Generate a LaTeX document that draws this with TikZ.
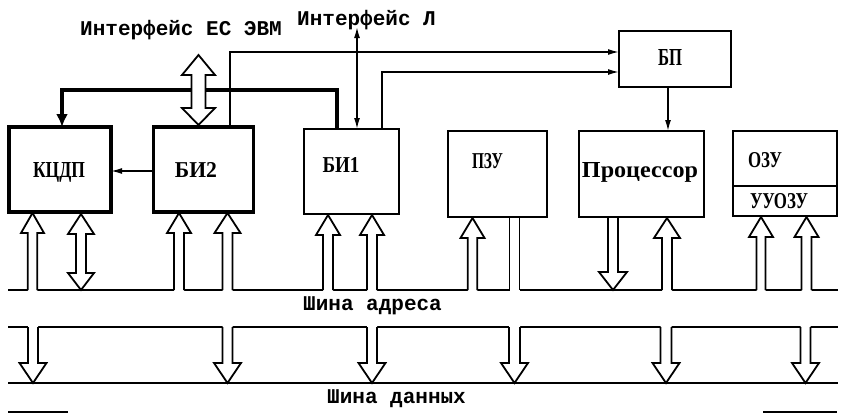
\documentclass[tikz,border=0pt]{standalone}
\usepackage{fontspec}
\usepackage{graphicx}
\setmainfont{Liberation Serif}
\newfontfamily\twfont{Liberation Mono}
\usetikzlibrary{arrows.meta,calc}

% hollow arrow pointing up: x, tip y, open base y, stem half, head half, head length
\newcommand\HUp[6]{%
  \fill[white] (#1-#4,#3+2) -- (#1-#4,#2+#6) -- (#1-#5,#2+#6) -- (#1,#2) -- (#1+#5,#2+#6) -- (#1+#4,#2+#6) -- (#1+#4,#3+2) -- cycle;
  \draw[hol] (#1-#4,#3) -- (#1-#4,#2+#6) -- (#1-#5,#2+#6) -- (#1,#2) -- (#1+#5,#2+#6) -- (#1+#4,#2+#6) -- (#1+#4,#3);}
% hollow arrow pointing down: x, open base y, tip y, stem half, head half, head length, fill offset
\newcommand\HDown[7]{%
  \fill[white] (#1-#4,#2+#7) -- (#1-#4,#3-#6) -- (#1-#5,#3-#6) -- (#1,#3) -- (#1+#5,#3-#6) -- (#1+#4,#3-#6) -- (#1+#4,#2+#7) -- cycle;
  \draw[hol] (#1-#4,#2) -- (#1-#4,#3-#6) -- (#1-#5,#3-#6) -- (#1,#3) -- (#1+#5,#3-#6) -- (#1+#4,#3-#6) -- (#1+#4,#2);}
% hollow double arrow: x, top tip, bottom tip, stem half, head half, top head length, bottom head length
\newcommand\HBoth[7]{%
  \fill[white] (#1,#2) -- (#1+#5,#2+#6) -- (#1+#4,#2+#6) -- (#1+#4,#3-#7) -- (#1+#5,#3-#7) -- (#1,#3) -- (#1-#5,#3-#7) -- (#1-#4,#3-#7) -- (#1-#4,#2+#6) -- (#1-#5,#2+#6) -- cycle;
  \draw[hol] (#1,#2) -- (#1+#5,#2+#6) -- (#1+#4,#2+#6) -- (#1+#4,#3-#7) -- (#1+#5,#3-#7) -- (#1,#3) -- (#1-#5,#3-#7) -- (#1-#4,#3-#7) -- (#1-#4,#2+#6) -- (#1-#5,#2+#6) -- cycle;}
% hollow stem without heads: x, top y, bottom y, stem half
\newcommand\HStem[4]{%
  \fill[white] (#1-#4,#2+3) rectangle (#1+#4,#3+2);
  \draw[hol] (#1-#4,#2) -- (#1-#4,#3) (#1+#4,#2) -- (#1+#4,#3);}

\tikzset{
  boxthick/.style={draw, line width=3.5pt, inner sep=0pt, outer sep=0pt},
  boxthin/.style={draw, line width=2pt, inner sep=0pt, outer sep=0pt},
  bus/.style={line width=2pt},
  ln/.style={line width=1.5pt},
  thickln/.style={line width=4pt},
  hol/.style={line width=1.8pt, line join=miter},
  tip/.style={-{Latex[length=11pt,width=6pt]}},
  mono/.style={font=\twfont\bfseries\fontsize{21pt}{21pt}\selectfont, inner sep=0pt, anchor=base west},
  lab/.style={font=\bfseries, inner sep=0pt, anchor=base},
}

\begin{document}
\begin{tikzpicture}[x=1pt,y=-1pt]
\useasboundingbox (0,0) rectangle (841,415);

% blocks
\node[boxthick, minimum width=102pt, minimum height=85pt] (k) at (60,169.5) {};
\node[boxthick, minimum width=100pt, minimum height=85pt] (b2) at (203.5,169.5) {};
\node[boxthin, minimum width=95pt, minimum height=85pt] (b1) at (351.5,171.5) {};
\node[boxthin, minimum width=99pt, minimum height=86pt] (pzu) at (497.5,174) {};
\node[boxthin, minimum width=125pt, minimum height=86pt] (cpu) at (641.5,174) {};
\node[boxthin, minimum width=104pt, minimum height=85pt] (ozu) at (785,173.5) {};
\node[boxthin, minimum width=112pt, minimum height=56pt] (bp) at (675,59) {};
\draw[line width=2pt] (ozu.west |- 0,186) -- (ozu.east |- 0,186);

% labels
\node[lab] (lk) at (59,177) {\resizebox{52pt}{15pt}{КЦДП}};
\node[lab] (lb2) at (196,177) {\resizebox{42pt}{15pt}{БИ2}};
\node[lab] (lb1) at (341,172) {\resizebox{37pt}{15pt}{БИ1}};
\node[lab] (lpzu) at (487.5,168) {\resizebox{31pt}{15pt}{ПЗУ}};
\node[lab] (lcpu) at (640,177) {\resizebox{116pt}{15pt}{Процессор}};
\node[lab] (lozu) at (765,167) {\resizebox{34pt}{15pt}{ОЗУ}};
\node[lab] (luu) at (779,208) {\resizebox{58pt}{15pt}{УУОЗУ}};
\node[lab] (lbp) at (670,65) {\resizebox{24pt}{16pt}{БП}};

\node[mono] (tes) at (80,35) {Интерфейс ЕС ЭВМ};
\node[mono] (tl) at (297,25) {Интерфейс Л};
\node[mono] (ta) at (303,310) {Шина адреса};
\node[mono] (td) at (327,403) {Шина данных};

% top connections
\draw[thickln, -{Latex[length=13pt,width=12pt]}] (b1.north -| 337,0) |- (62,90) -- (k.north -| 62,0);
\draw[ln, tip] (b2.north -| 230,0) |- (bp.west |- 0,52);
\draw[ln, tip] (b1.north -| 382,0) |- (bp.west |- 0,72);
\coordinate (ifl) at (357,27);
\draw[ln, {Latex[length=11pt,width=6pt]}-{Latex[length=11pt,width=6pt]}] (ifl) -- (b1.north -| ifl);
\draw[ln, tip] (bp.south -| 668,0) -- (cpu.north -| 668,0);
\draw[ln, tip] (b2.west |- 0,171) -- (k.east |- 0,171);
\HBoth{198.5}{55}{125}{7}{16.5}{20}{17}

% buses
\coordinate (a1) at (8,290);  \coordinate (a2) at (838,290);
\coordinate (d1) at (8,327);  \coordinate (d2) at (838,327);
\coordinate (e1) at (8,383);  \coordinate (e2) at (838,383);
\draw[bus] (a1) -- (a2);
\draw[bus] (d1) -- (d2);
\draw[bus] (e1) -- (e2);
\draw[bus] (8,412) -- (68,412);
\draw[bus] (763,412) -- (837,412);

% address side arrows
\HUp{32.5}{213}{290}{4.75}{11.5}{20}
\HBoth{81}{214}{290}{5}{13}{20}{17}
\HUp{179}{213}{290}{5}{12}{20}
\HUp{227.5}{213}{290}{5}{13}{20}
\HUp{328}{215}{290}{5}{12}{20}
\HUp{372}{215}{290}{5}{12}{20}
\HUp{472.5}{218}{290}{4.75}{12}{20}
\HStem{514.5}{218}{290}{5}
\HDown{613}{218}{290}{5}{14}{18}{3}
\HUp{667}{218}{290}{5}{13}{20}
\HUp{761}{217}{290}{4.5}{12}{20}
\HUp{806.5}{217}{290}{5}{12}{20}

% data side arrows
\HDown{33}{327}{383}{5}{13.5}{20}{-2}
\HDown{227.5}{327}{383}{5}{13.5}{20}{-2}
\HDown{372}{327}{383}{5}{13.5}{20}{-2}
\HDown{514.5}{327}{383}{5.5}{13.5}{20}{-2}
\HDown{666}{327}{383}{5.5}{13.5}{20}{-2}
\HDown{805.5}{327}{383}{5}{13.5}{20}{-2}
\end{tikzpicture}
\end{document}
